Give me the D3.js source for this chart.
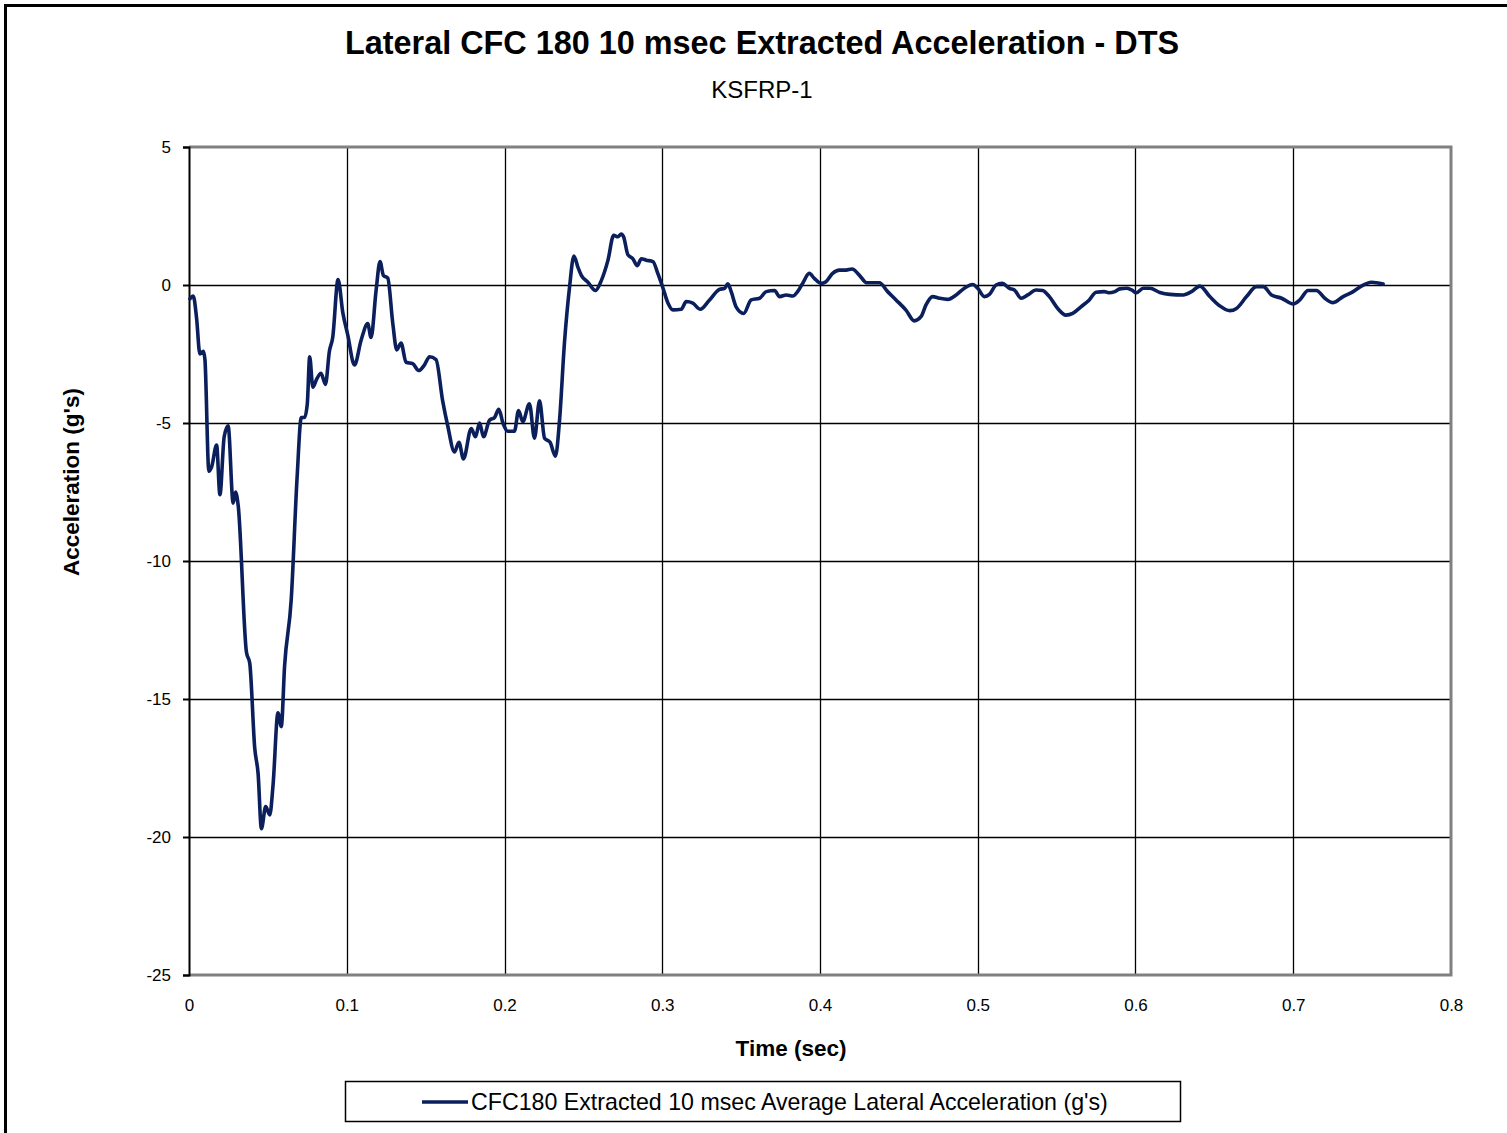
<!DOCTYPE html>
<html>
<head>
<meta charset="utf-8">
<script src="https://cdn.jsdelivr.net/npm/d3@7"></script>
<style>
  html, body { margin: 0; padding: 0; background: #fff; }
  svg { display: block; font-family: "Liberation Sans", Arial, sans-serif; }
</style>
</head>
<body>
<svg id="chart" width="1507" height="1133"></svg>
<script>
// Lateral acceleration trace (time in seconds, acceleration in g's)
const timeSec = [
  0.0006, 0.0027, 0.0048, 0.0069, 0.0091, 0.0101, 0.0126, 0.0143, 0.0175, 0.0196,
  0.0223, 0.0248, 0.0280, 0.0295, 0.0312, 0.0364, 0.0385, 0.0417, 0.0438, 0.0459,
  0.0486, 0.0512, 0.0533, 0.0564, 0.0585, 0.0606, 0.0648, 0.0685, 0.0712, 0.0733,
  0.0750, 0.0765, 0.0785, 0.0810, 0.0837, 0.0865, 0.0890, 0.0911, 0.0945, 0.0975,
  0.1006, 0.1049, 0.1091, 0.1133, 0.1154, 0.1186, 0.1211, 0.1232, 0.1260, 0.1292,
  0.1317, 0.1344, 0.1376, 0.1418, 0.1456, 0.1492, 0.1525, 0.1566, 0.1608, 0.1640,
  0.1683, 0.1711, 0.1740, 0.1789, 0.1816, 0.1842, 0.1867, 0.1905, 0.1937, 0.1964,
  0.1990, 0.2021, 0.2063, 0.2089, 0.2116, 0.2158, 0.2190, 0.2222, 0.2254, 0.2289,
  0.2323, 0.2349, 0.2380, 0.2412, 0.2440, 0.2465, 0.2487, 0.2529, 0.2577, 0.2613,
  0.2656, 0.2692, 0.2719, 0.2740, 0.2755, 0.2782, 0.2814, 0.2842, 0.2867, 0.2899,
  0.2941, 0.2973, 0.3004, 0.3036, 0.3068, 0.3120, 0.3152, 0.3194, 0.3241, 0.3300,
  0.3363, 0.3395, 0.3416, 0.3437, 0.3469, 0.3516, 0.3564, 0.3617, 0.3659, 0.3712,
  0.3744, 0.3786, 0.3828, 0.3858, 0.3890, 0.3932, 0.3964, 0.4006, 0.4038, 0.4080,
  0.4123, 0.4165, 0.4203, 0.4249, 0.4296, 0.4376, 0.4429, 0.4482, 0.4545, 0.4598,
  0.4640, 0.4672, 0.4714, 0.4757, 0.4810, 0.4863, 0.4915, 0.4968, 0.5000, 0.5042,
  0.5074, 0.5116, 0.5154, 0.5201, 0.5232, 0.5275, 0.5317, 0.5370, 0.5411, 0.5454,
  0.5507, 0.5559, 0.5602, 0.5654, 0.5707, 0.5750, 0.5802, 0.5830, 0.5869, 0.5901,
  0.5943, 0.5975, 0.6006, 0.6049, 0.6091, 0.6154, 0.6218, 0.6302, 0.6355, 0.6408,
  0.6471, 0.6535, 0.6598, 0.6640, 0.6704, 0.6767, 0.6810, 0.6862, 0.6926, 0.7000,
  0.7042, 0.7094, 0.7147, 0.7200, 0.7253, 0.7316, 0.7380, 0.7432, 0.7496, 0.7570
];
const lateralAccel = [
  -0.50, -0.40, -1.20, -2.50, -2.40, -2.70, -6.75, -6.60, -5.80, -7.60,
  -5.50, -5.10, -7.90, -7.50, -8.00, -13.30, -13.70, -16.80, -17.70, -19.70,
  -18.90, -19.20, -18.10, -15.50, -16.00, -13.80, -11.40, -7.00, -4.80, -4.80,
  -4.30, -2.60, -3.70, -3.40, -3.20, -3.60, -2.40, -1.90, 0.20, -1.00,
  -1.80, -2.90, -2.00, -1.40, -1.90, -0.20, 0.85, 0.35, 0.25, -1.40,
  -2.35, -2.10, -2.80, -2.85, -3.10, -2.90, -2.60, -2.70, -4.20, -5.10,
  -6.05, -5.70, -6.30, -5.20, -5.50, -5.00, -5.50, -4.90, -4.80, -4.50,
  -5.00, -5.30, -5.30, -4.55, -4.95, -4.30, -5.55, -4.20, -5.55, -5.70,
  -6.20, -4.90, -2.10, -0.10, 1.05, 0.65, 0.35, 0.10, -0.20, 0.15,
  0.90, 1.80, 1.75, 1.85, 1.75, 1.10, 0.95, 0.70, 0.95, 0.90,
  0.85, 0.40, -0.10, -0.65, -0.90, -0.88, -0.60, -0.66, -0.88, -0.54,
  -0.16, -0.12, 0.04, -0.24, -0.80, -1.03, -0.54, -0.48, -0.24, -0.20,
  -0.42, -0.36, -0.40, -0.24, 0.06, 0.42, 0.24, 0.06, 0.12, 0.42,
  0.54, 0.54, 0.58, 0.36, 0.08, 0.08, -0.24, -0.54, -0.91, -1.30,
  -1.15, -0.72, -0.42, -0.48, -0.52, -0.36, -0.12, 0.02, -0.12, -0.42,
  -0.34, 0.00, 0.06, -0.12, -0.18, -0.48, -0.36, -0.18, -0.20, -0.42,
  -0.85, -1.09, -1.03, -0.79, -0.54, -0.26, -0.24, -0.28, -0.24, -0.14,
  -0.12, -0.18, -0.28, -0.12, -0.12, -0.27, -0.34, -0.36, -0.24, -0.04,
  -0.42, -0.76, -0.93, -0.85, -0.42, -0.06, -0.06, -0.36, -0.48, -0.69,
  -0.54, -0.20, -0.20, -0.48, -0.64, -0.42, -0.24, -0.04, 0.10, 0.04
];

const xTicks = [0, 0.1, 0.2, 0.3, 0.4, 0.5, 0.6, 0.7, 0.8];
const yTicks = [5, 0, -5, -10, -15, -20, -25];

const titleText = "Lateral CFC 180 10 msec Extracted Acceleration - DTS";
const subtitleText = "KSFRP-1";
const xTitle = "Time (sec)";
const yTitle = "Acceleration (g's)";
const seriesName = "CFC180 Extracted 10 msec Average Lateral Acceleration (g's)";

const lineColor = "#0b1f5c";

const svg = d3.select("#chart");
const plot = { left: 189, right: 1451, top: 147, bottom: 975 };

const x = d3.scaleLinear().domain([0, 0.8]).range([plot.left, plot.right]);
const y = d3.scaleLinear().domain([-25, 5]).range([plot.bottom, plot.top]);

// Outer frame of the chart area
svg.append("path")
  .attr("d", "M5.5,1140 L5.5,5.5 L1515,5.5")
  .attr("fill", "none").attr("stroke", "#000").attr("stroke-width", 3);

// Titles
svg.append("text").attr("x", 762).attr("y", 54)
  .attr("text-anchor", "middle").attr("font-size", 32.4).attr("font-weight", "bold")
  .text(titleText);
svg.append("text").attr("x", 762).attr("y", 98)
  .attr("text-anchor", "middle").attr("font-size", 24)
  .text(subtitleText);

// Gridlines
const grid = svg.append("g");
grid.selectAll("line.h").data(yTicks.filter(d => d > -25 && d < 5)).join("line")
  .attr("x1", plot.left).attr("x2", plot.right)
  .attr("y1", d => Math.round(y(d)) + 0.5).attr("y2", d => Math.round(y(d)) + 0.5)
  .attr("stroke", "#000").attr("stroke-width", 1.3);
grid.selectAll("line.v").data(xTicks.filter(d => d > 0 && d < 0.8)).join("line")
  .attr("x1", d => Math.round(x(d)) + 0.5).attr("x2", d => Math.round(x(d)) + 0.5)
  .attr("y1", plot.top).attr("y2", plot.bottom)
  .attr("stroke", "#000").attr("stroke-width", 1.3);

// Plot border (grey)
svg.append("path")
  .attr("d", `M${plot.left},${plot.top} L${plot.right},${plot.top} L${plot.right},${plot.bottom} L${plot.left},${plot.bottom}`)
  .attr("fill", "none").attr("stroke", "#808080").attr("stroke-width", 3);

// Y axis (plain hyphen for negatives)
const yAxis = d3.axisLeft(y).tickValues(yTicks).tickSize(6).tickPadding(12)
  .tickFormat(d => String(d));
const yG = svg.append("g").attr("transform", `translate(${plot.left},0)`).call(yAxis);
yG.select(".domain").attr("stroke", "#000").attr("stroke-width", 2);
yG.selectAll(".tick line").attr("stroke", "#000").attr("stroke-width", 2);
yG.selectAll(".tick text").attr("font-size", 17).attr("fill", "#000")
  .attr("font-family", "Liberation Sans, Arial, sans-serif");

// X axis labels
const xAxis = d3.axisBottom(x).tickValues(xTicks).tickSize(0).tickPadding(24)
  .tickFormat(d => d === 0 ? "0" : d3.format(".1f")(d));
const xG = svg.append("g").attr("transform", `translate(0,${plot.bottom})`).call(xAxis);
xG.select(".domain").remove();
xG.selectAll(".tick text").attr("font-size", 17).attr("fill", "#000")
  .attr("font-family", "Liberation Sans, Arial, sans-serif");

// Axis titles
svg.append("text").attr("x", 791).attr("y", 1056)
  .attr("text-anchor", "middle").attr("font-size", 22.5).attr("font-weight", "bold")
  .text(xTitle);
svg.append("text")
  .attr("transform", "translate(79,482) rotate(-90)")
  .attr("text-anchor", "middle").attr("font-size", 22.5).attr("font-weight", "bold")
  .text(yTitle);

// Data line
const points = timeSec.map((t, i) => [t, lateralAccel[i]]);
const line = d3.line().x(d => x(d[0])).y(d => y(d[1])).curve(d3.curveMonotoneX);
svg.append("path").datum(points)
  .attr("d", line)
  .attr("fill", "none").attr("stroke", lineColor)
  .attr("stroke-width", 3.6).attr("stroke-linejoin", "round").attr("stroke-linecap", "round");

// Legend
const legend = svg.append("g");
legend.append("rect").attr("x", 345.5).attr("y", 1081.5).attr("width", 835).attr("height", 40)
  .attr("fill", "#fff").attr("stroke", "#000").attr("stroke-width", 1.5);
legend.append("line").attr("x1", 422).attr("x2", 468).attr("y1", 1102).attr("y2", 1102)
  .attr("stroke", lineColor).attr("stroke-width", 3.5);
legend.append("text").attr("x", 471).attr("y", 1110)
  .attr("font-size", 23.2).text(seriesName);
</script>
</body>
</html>
